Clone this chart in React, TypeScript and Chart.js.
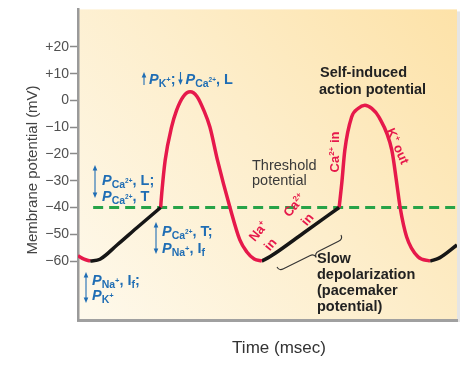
import React, { useEffect, useRef } from "react";
import { Chart, registerables } from "chart.js";

Chart.register(...registerables);

const FONT = '"Liberation Sans", Arial, Helvetica, sans-serif';
const BLUE = "#1f6db4";
const RED = "#e6194b";
const BLACK = "#161616";
const GREEN = "#27a348";

// ---- data (time in arbitrary msec units 0..100, potential in mV) ----
const yTicks = [-60, -50, -40, -30, -20, -10, 0, 10, 20];

const redStartT = [0, 1.6, 3.2];
const redStartV = [-58, -59.3, -60];

const black1T = [3.2, 5.8, 10.3, 16, 21.8];
const black1V = [-60, -59.3, -54, -47, -40];

const red1T = [21.8, 22.1, 23.0, 24.7, 26.0, 27.8, 29.6, 31.4, 33.2, 34.8, 36.8, 40.1, 42.7, 44.5, 46.5, 48.5];
const red1V = [-40, -34.6, -22.3, -9.9, -3.7, 1.5, 3.2, 1.5, -3.7, -9.9, -22.3, -40, -52.1, -56.5, -59.2, -60];

const black2T = [48.5, 50.7, 59.6, 68.9];
const black2V = [-60, -58.3, -49.4, -40];

const red2T = [68.9, 69.6, 70.4, 72.2, 73.9, 75.7, 77.5, 79.4, 82.8, 84.1, 85.0, 86.7, 89.7, 92.9];
const red2V = [-40, -30.9, -18.6, -6.2, -3.0, -1.8, -3.0, -6.2, -18.6, -30.9, -40, -50.9, -58.4, -60];

const black3T = [92.9, 95.5, 100];
const black3V = [-60, -58.7, -54];

const thresholdT = [4, 100];
const thresholdV = [-40, -40];

const toPts = (t: number[], v: number[]) => t.map((x, i) => ({ x, y: v[i] }));

// ---- text helpers ----
type Run = [string, number, string?, number?];
const fnt = (size: number, st = "") =>
  `${st.includes("i") ? "italic " : ""}${st.includes("b") ? "bold " : ""}${size}px ${FONT}`;

function measureRuns(ctx: CanvasRenderingContext2D, runs: Run[]) {
  let w = 0;
  for (const [t, s, st] of runs) {
    ctx.font = fnt(s, st || "");
    w += ctx.measureText(t).width;
  }
  return w;
}
function drawRuns(ctx: CanvasRenderingContext2D, x: number, y: number, runs: Run[]) {
  let cx = x;
  for (const [t, s, st, dy] of runs) {
    ctx.font = fnt(s, st || "");
    ctx.fillText(t, cx, y + (dy || 0));
    cx += ctx.measureText(t).width;
  }
  return cx;
}
function rotRuns(ctx: CanvasRenderingContext2D, cx: number, cy: number, deg: number, runs: Run[], size: number) {
  ctx.save();
  ctx.translate(cx, cy);
  ctx.rotate((deg * Math.PI) / 180);
  const w = measureRuns(ctx, runs);
  drawRuns(ctx, -w / 2, size * 0.36, runs);
  ctx.restore();
}
const P = (ion: string): Run[] => {
  const base: Run[] = [["P", 14.5, "bi"]];
  if (ion === "Ca") return [...base, ["Ca", 10.5, "b", 3], ["2+", 6.5, "b", -2]];
  if (ion === "Na") return [...base, ["Na", 10.5, "b", 3], ["+", 7.5, "b", -2]];
  return [...base, ["K", 10.5, "b", 3], ["+", 7.5, "b", -2]];
};
function vArrow(ctx: CanvasRenderingContext2D, x: number, y1: number, y2: number, up: boolean, down: boolean) {
  ctx.strokeStyle = BLUE;
  ctx.fillStyle = BLUE;
  ctx.lineWidth = 1.1;
  ctx.beginPath();
  ctx.moveTo(x, y1 + (up ? 4 : 0));
  ctx.lineTo(x, y2 - (down ? 4 : 0));
  ctx.stroke();
  if (up) {
    ctx.beginPath();
    ctx.moveTo(x, y1);
    ctx.lineTo(x - 2.3, y1 + 5.5);
    ctx.lineTo(x + 2.3, y1 + 5.5);
    ctx.closePath();
    ctx.fill();
  }
  if (down) {
    ctx.beginPath();
    ctx.moveTo(x, y2);
    ctx.lineTo(x - 2.3, y2 - 5.5);
    ctx.lineTo(x + 2.3, y2 - 5.5);
    ctx.closePath();
    ctx.fill();
  }
}
function brace(ctx: CanvasRenderingContext2D, x1: number, y1: number, x2: number, y2: number, h: number) {
  const L = Math.hypot(x2 - x1, y2 - y1);
  const a = Math.atan2(y2 - y1, x2 - x1);
  const r = 5;
  ctx.save();
  ctx.translate(x1, y1);
  ctx.rotate(a);
  ctx.strokeStyle = "#333";
  ctx.lineWidth = 1.1;
  ctx.beginPath();
  ctx.moveTo(0, 0);
  ctx.quadraticCurveTo(0, h / 2, r, h / 2);
  ctx.lineTo(L * 0.55 - r, h / 2);
  ctx.quadraticCurveTo(L * 0.55, h / 2, L * 0.55, h);
  ctx.quadraticCurveTo(L * 0.55, h / 2, L * 0.55 + r, h / 2);
  ctx.lineTo(L - r, h / 2);
  ctx.quadraticCurveTo(L, h / 2, L, 0);
  ctx.stroke();
  ctx.restore();
}

const decor = {
  id: "decor",
  beforeDraw(chart: any) {
    const { ctx, chartArea: a } = chart;
    ctx.save();
    ctx.fillStyle = "rgba(0,0,0,0.10)";
    ctx.fillRect(a.right, a.top + 2, 3, a.bottom - a.top);
    const g = ctx.createLinearGradient(a.left, a.bottom, a.right, a.top);
    g.addColorStop(0, "#fef9ec");
    g.addColorStop(0.5, "#fdeecc");
    g.addColorStop(1, "#fde2a8");
    ctx.fillStyle = g;
    ctx.fillRect(a.left, a.top, a.right - a.left, a.bottom - a.top);
    ctx.restore();
  },
  afterDatasetsDraw(chart: any) {
    const ctx: CanvasRenderingContext2D = chart.ctx;
    ctx.save();
    ctx.textBaseline = "alphabetic";
    ctx.textAlign = "left";

    // blue permeability annotations
    vArrow(ctx, 144, 72, 85, true, false);
    ctx.fillStyle = BLUE;
    const cx = drawRuns(ctx, 149, 84, [...P("K"), ["; ", 14.5, "b"]]);
    vArrow(ctx, cx + 1, 72, 85, false, true);
    ctx.fillStyle = BLUE;
    drawRuns(ctx, cx + 6, 84, [...P("Ca"), [", L", 14.5, "b"]]);

    vArrow(ctx, 95, 165, 198, true, true);
    ctx.fillStyle = BLUE;
    drawRuns(ctx, 102, 185, [...P("Ca"), [", L;", 14.5, "b"]]);
    drawRuns(ctx, 102, 201, [...P("Ca"), [", T", 14.5, "b"]]);

    vArrow(ctx, 156, 222, 254, true, true);
    ctx.fillStyle = BLUE;
    drawRuns(ctx, 162, 236, [...P("Ca"), [", T;", 14.5, "b"]]);
    drawRuns(ctx, 162, 253, [...P("Na"), [", I", 14.5, "b"], ["f", 10.5, "b", 3]]);

    vArrow(ctx, 86, 272, 303, true, true);
    ctx.fillStyle = BLUE;
    drawRuns(ctx, 92, 285, [...P("Na"), [", I", 14.5, "b"], ["f", 10.5, "b", 3], [";", 14.5, "b"]]);
    drawRuns(ctx, 92, 300, P("K"));

    // black bold labels
    ctx.fillStyle = "#222";
    ctx.font = fnt(14.5, "b");
    ctx.fillText("Self-induced", 320, 77);
    ctx.fillText("action potential", 319, 94);
    ctx.fillText("Slow", 317, 263);
    ctx.fillText("depolarization", 317, 279);
    ctx.fillText("(pacemaker", 317, 295);
    ctx.fillText("potential)", 317, 311);

    ctx.fillStyle = "#3a3a3a";
    ctx.font = fnt(14.5);
    ctx.fillText("Threshold", 252, 170);
    ctx.fillText("potential", 252, 185);

    // red ion labels
    ctx.fillStyle = RED;
    rotRuns(ctx, 258, 231, -50, [["Na", 13, "b"], ["+", 8, "b", -5]], 13);
    rotRuns(ctx, 270, 244, -50, [["in", 13, "b"]], 13);
    rotRuns(ctx, 294, 205, -50, [["Ca", 13, "b"], ["2+", 8, "b", -5]], 13);
    rotRuns(ctx, 307, 219, -50, [["in", 13, "b"]], 13);
    rotRuns(ctx, 334, 152, -90, [["Ca", 13, "b"], ["2+", 8, "b", -5], [" in", 13, "b"]], 13);
    rotRuns(ctx, 398, 146, 66, [["K", 13, "b"], ["+", 8, "b", -5], [" out", 13, "b"]], 13);

    brace(ctx, 277, 267, 341, 235, 9);

    // axis titles
    ctx.fillStyle = "#333";
    ctx.font = fnt(17);
    ctx.textAlign = "center";
    ctx.fillText("Time (msec)", 279, 353);
    ctx.save();
    ctx.translate(37, 170);
    ctx.rotate(-Math.PI / 2);
    ctx.fillStyle = "#444";
    ctx.font = fnt(15);
    ctx.fillText("Membrane potential (mV)", 0, 0);
    ctx.restore();
    ctx.restore();
  },
};

const lineDs = (label: string, t: number[], v: number[], color: string) => ({
  label,
  data: toPts(t, v),
  borderColor: color,
  borderWidth: 3.5,
  pointRadius: 0,
  fill: false,
  cubicInterpolationMode: "monotone" as const,
  borderCapStyle: "butt" as const,
  borderJoinStyle: "round" as const,
  order: 0,
});

export default function App() {
  const ref = useRef<HTMLCanvasElement>(null);
  useEffect(() => {
    const canvas = ref.current!;
    const chart = new Chart(canvas, {
      type: "line",
      data: {
        datasets: [
          lineDs("start", redStartT, redStartV, RED),
          lineDs("pacemaker 1", black1T, black1V, BLACK),
          lineDs("AP 1", red1T, red1V, RED),
          lineDs("pacemaker 2", black2T, black2V, BLACK),
          lineDs("AP 2", red2T, red2V, RED),
          lineDs("pacemaker 3", black3T, black3V, BLACK),
          {
            label: "threshold",
            data: toPts(thresholdT, thresholdV),
            borderColor: GREEN,
            borderWidth: 3,
            borderDash: [10, 6],
            pointRadius: 0,
            fill: false,
            order: 5,
          } as any,
        ],
      },
      options: {
        responsive: false,
        animation: false,
        devicePixelRatio: 1,
        layout: { padding: { top: 9, right: 16, left: 0, bottom: 0 } },
        plugins: { legend: { display: false }, tooltip: { enabled: false } },
        scales: {
          x: {
            type: "linear",
            min: 0,
            max: 100,
            ticks: { display: false },
            grid: { display: false, drawTicks: false },
            border: { display: true, color: "#a0a0a0", width: 3 },
            afterFit: (s: any) => {
              s.height = 59;
            },
          },
          y: {
            type: "linear",
            min: -82,
            max: 34,
            afterBuildTicks: (s: any) => {
              s.ticks = yTicks.map((value) => ({ value }));
            },
            ticks: {
              padding: 1,
              color: "#505050",
              font: { family: FONT, size: 14 },
              callback: (v: any) => (v > 0 ? "+" + v : v < 0 ? "\u2212" + Math.abs(v) : "0"),
            },
            grid: { drawOnChartArea: false, drawTicks: true, tickLength: 8, color: "#8a8a8a", tickWidth: 1.5 },
            border: { display: true, color: "#9a9a9a", width: 2.5 },
            afterFit: (s: any) => {
              s.width = 78;
            },
          },
        },
      },
      plugins: [decor],
    } as any);
    return () => chart.destroy();
  }, []);
  return (
    <div style={{ position: "fixed", left: 0, top: 0, width: 473, height: 379, background: "#fff" }}>
      <canvas ref={ref} width={473} height={379} style={{ display: "block", width: 473, height: 379 }} />
    </div>
  );
}
